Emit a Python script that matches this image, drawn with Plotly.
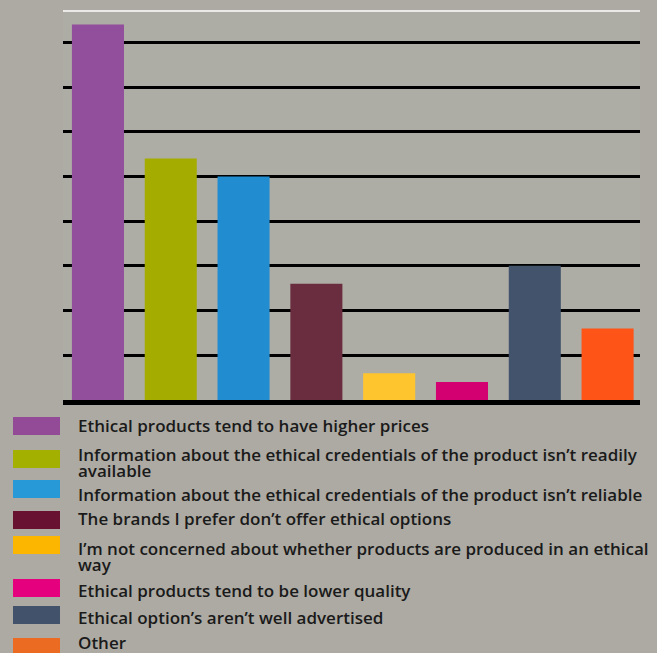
import plotly.graph_objects as go

# Reasons given for not buying ethical products (% of respondents)
categories = [
    "Ethical products tend to have higher prices",
    "Information about the ethical credentials of the product isn\u2019t readily available",
    "Information about the ethical credentials of the product isn\u2019t reliable",
    "The brands I prefer don\u2019t offer ethical options",
    "I\u2019m not concerned about whether products are produced in an ethical way",
    "Ethical products tend to be lower quality",
    "Ethical option\u2019s aren\u2019t well advertised",
    "Other",
]
values = [42, 27, 25, 13, 3, 2, 15, 8]

bar_colors = ["#914f9c", "#a5ac00", "#218ccf", "#6a2c3f",
              "#fec52e", "#d20070", "#42536b", "#ff5418"]
key_colors = ["#934b98", "#a4b000", "#2699d6", "#681131",
              "#fdb600", "#e5007d", "#42526a", "#ec6b22"]

# Legend text, wrapped as it is set under the chart
key_lines = [
    ["Ethical products tend to have higher prices"],
    ["Information about the ethical credentials of the product isn\u2019t readily",
     "available"],
    ["Information about the ethical credentials of the product isn\u2019t reliable"],
    ["The brands I prefer don\u2019t offer ethical options"],
    ["I\u2019m not concerned about whether products are produced in an ethical",
     "way"],
    ["Ethical products tend to be lower quality"],
    ["Ethical option\u2019s aren\u2019t well advertised"],
    ["Other"],
]

PAPER = "#adaaa3"
PLOT_BG = "#aeada5"
FONT = "Open Sans"

W, H = 657, 653
M_L, M_R, M_T, M_B = 63, 17, 11, 253

fig = go.Figure(
    go.Bar(
        x=list(range(len(categories))),
        y=values,
        marker=dict(color=bar_colors, line=dict(width=0)),
        hovertext=categories,
        showlegend=False,
    )
)

fig.update_layout(
    width=W,
    height=H,
    margin=dict(l=M_L, r=M_R, t=M_T, b=M_B, pad=0),
    paper_bgcolor=PAPER,
    plot_bgcolor=PLOT_BG,
    bargap=0.285,
    font=dict(family=FONT, color="#1a1a1a"),
)
fig.update_xaxes(
    range=[-0.48, 7.445],
    showgrid=False,
    showticklabels=False,
    ticks="",
    showline=True,
    linecolor="#000000",
    linewidth=5,
    zeroline=False,
)
fig.update_yaxes(
    range=[0, 43.5],
    dtick=5,
    showgrid=True,
    gridcolor="#000000",
    gridwidth=3,
    showticklabels=False,
    ticks="",
    zeroline=False,
    showline=False,
)

# thin white rule along the top of the plot area
fig.add_shape(type="line", xref="paper", yref="paper", x0=0, x1=1,
              y0=1, y1=1, line=dict(color="#ffffff", width=1.5))

# Legend drawn beneath the chart: swatch + wrapped label for each category
swatch_mid = [426, 459, 489, 520, 545, 588, 615, 647]   # px from top of page
text_mid = [425, 454, 494, 518, 548, 590, 617, 642]
line_step = 16

for i, col in enumerate(key_colors):
    off = (H - M_B) - swatch_mid[i]
    fig.add_shape(
        type="rect", xref="paper", yref="paper",
        xsizemode="pixel", ysizemode="pixel",
        xanchor=0, yanchor=0,
        x0=13 - M_L, x1=60 - M_L,
        y0=off - 9, y1=off + 9,
        fillcolor=col, line=dict(width=0),
    )
    for j, line in enumerate(key_lines[i]):
        ty = text_mid[i] + j * line_step
        fig.add_annotation(
            x=0, y=0, xref="paper", yref="paper",
            xanchor="left", yanchor="middle",
            xshift=77 - M_L, yshift=(H - M_B) - ty,
            text=line, showarrow=False, borderpad=0,
            font=dict(family=FONT, size=17, color="#1a1a1a", weight=600),
        )

fig.write_html("out.html")
